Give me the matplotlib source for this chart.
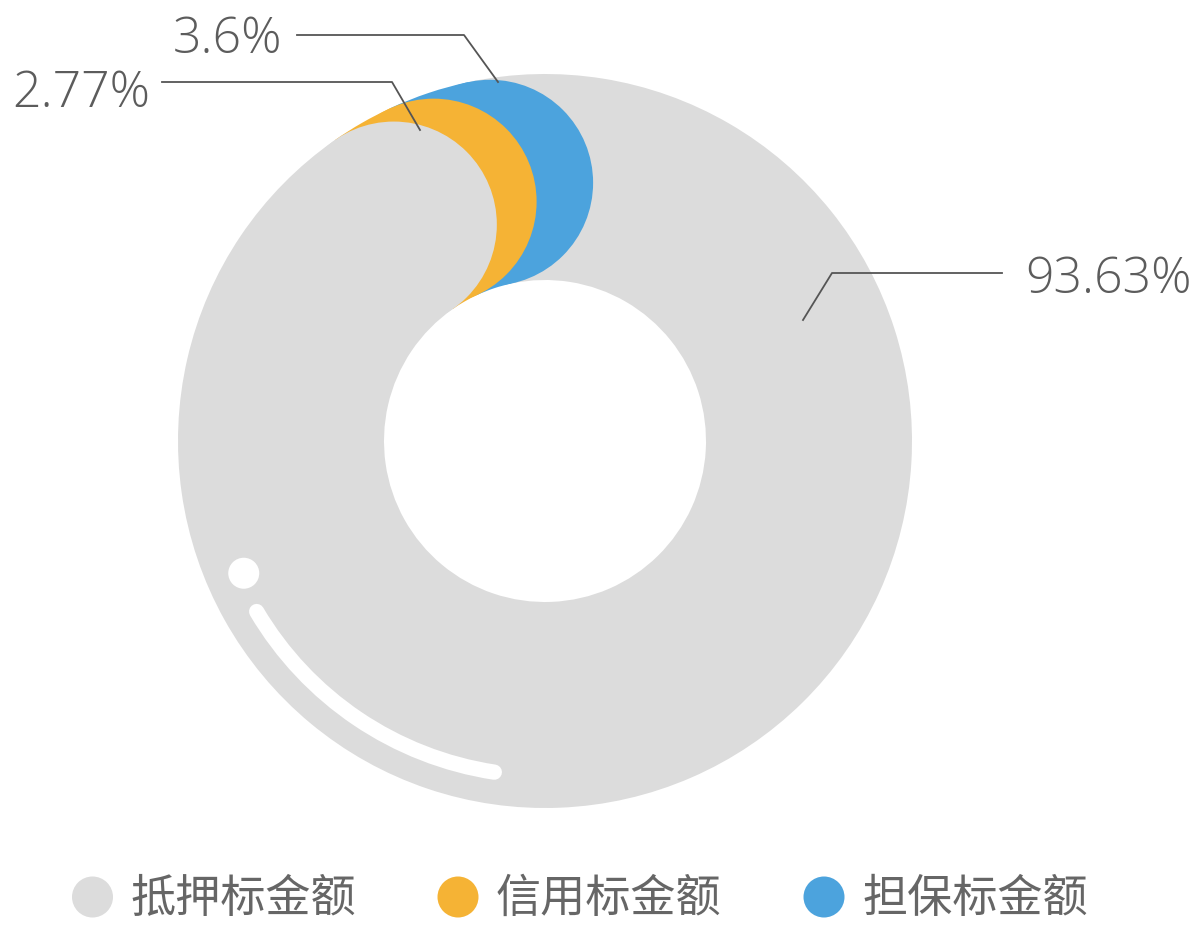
import numpy as np
import matplotlib
matplotlib.use("Agg")
import matplotlib.pyplot as plt
from matplotlib.patches import Circle, Arc

# ---- data ----
categories = ["抵押标金额", "信用标金额", "担保标金额"]
values = [93.63, 2.77, 3.6]
value_labels = ["93.63%", "2.77%", "3.6%"]
colors = ["#dcdcdc", "#f5b335", "#4ca3dd"]

W, H = 1197, 925
fig = plt.figure(figsize=(W / 100, H / 100), dpi=100)
ax = fig.add_axes([0, 0, 1, 1])

def Y(y):  # pixel-from-top to data y
    return H - y

cx, cy = 545, Y(441)
R_out, R_in = 367, 161
ring_w = R_out - R_in
mid_r = (R_out + R_in) / 2
cap_r = ring_w / 2

wedges, _ = ax.pie(values, colors=colors, startangle=102.0, counterclock=False,
                   radius=R_out, center=(cx, cy), frame=True,
                   wedgeprops=dict(width=ring_w, linewidth=0, edgecolor="none"))

# round caps at the clockwise end of each segment (blue, orange, then gray on top)
for z, i in zip([2, 3, 4], [2, 1, 0]):
    th = np.deg2rad(wedges[i].theta1)
    ax.add_patch(Circle((cx + mid_r * np.cos(th), cy + mid_r * np.sin(th)), cap_r,
                        facecolor=colors[i], edgecolor="none", zorder=z))

# white highlight
hr = 335
ax.add_patch(Arc((cx, cy), 2 * hr, 2 * hr, theta1=210.6, theta2=261.3,
                 color="white", lw=11, capstyle="round", zorder=6))
a = np.deg2rad(203.7)
ax.add_patch(Circle((cx + 329 * np.cos(a), cy + 329 * np.sin(a)), 15.5,
                    facecolor="white", edgecolor="none", zorder=6))

# labels with leader lines (pixel layout)
line_c = "#555555"
text_c = "#5c5c5c"
lfont = dict(family=["Open Sans", "DejaVu Sans"], fontsize=36, color=text_c,
             fontweight="light")
# 93.63%
ax.plot([803, 832, 1002], [Y(320), Y(273), Y(273)], color=line_c, lw=1.3, zorder=7)
ax.text(1025, Y(293), value_labels[0], ha="left", va="baseline", **lfont)
# 2.77%
ax.plot([162, 392, 420], [Y(82), Y(82), Y(130)], color=line_c, lw=1.3, zorder=7)
ax.text(150, Y(107), value_labels[1], ha="right", va="baseline", **lfont)
# 3.6%
ax.plot([297, 464, 498], [Y(35), Y(35), Y(82)], color=line_c, lw=1.3, zorder=7)
ax.text(282, Y(53), value_labels[2], ha="right", va="baseline", **lfont)

# legend
leg_x = [92.5, 458, 824]
for x, c, lab in zip(leg_x, colors, categories):
    ax.add_patch(Circle((x, Y(897)), 20.5, facecolor=c, edgecolor="none"))
    ax.text(x + 38, Y(912), lab, ha="left", va="baseline",
            family=["Noto Sans CJK SC", "DejaVu Sans"], fontsize=32.5,
            color="#666666", fontweight="light")

ax.set_xlim(0, W)
ax.set_ylim(0, H)
ax.set_aspect("auto")
ax.axis("off")
fig.savefig("out.png", dpi=100, facecolor="white")
